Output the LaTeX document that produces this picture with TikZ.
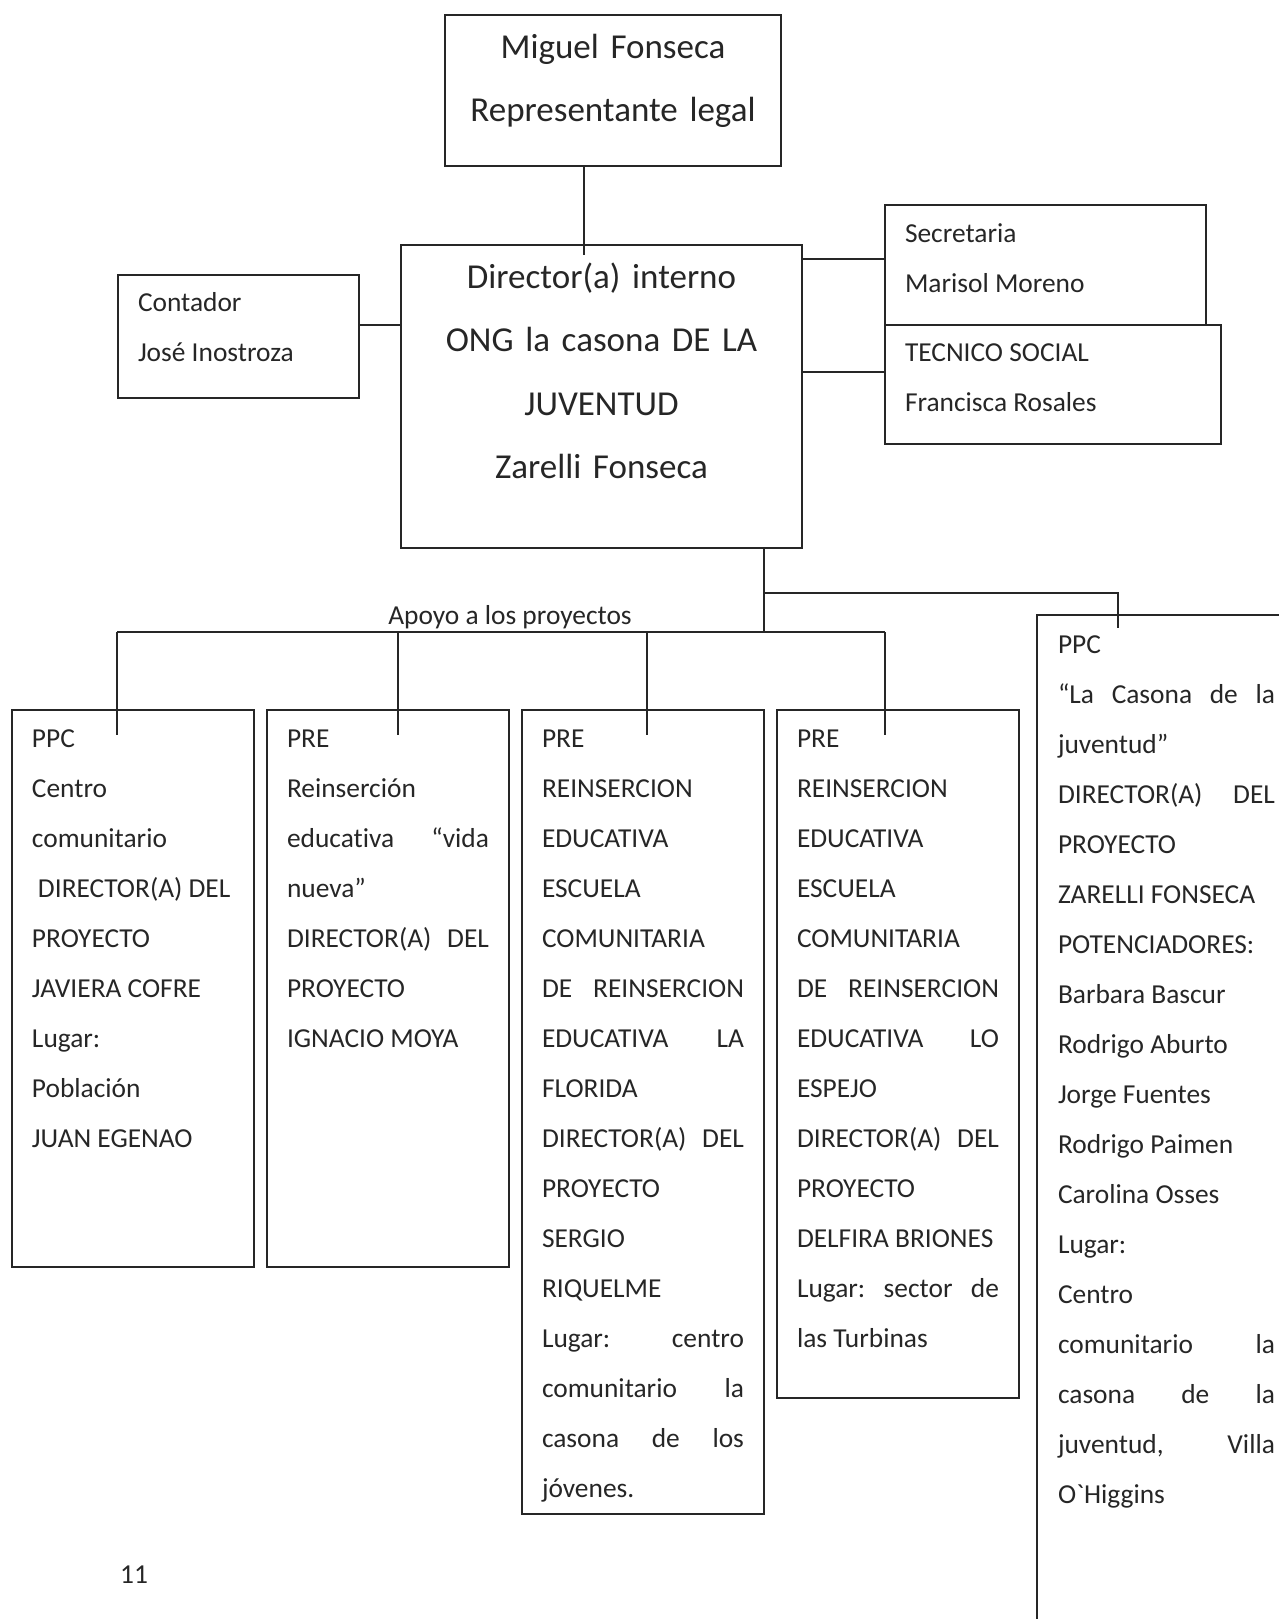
\documentclass[tikz,border=0pt]{standalone}
\usepackage{fontspec}
\setmainfont{Carlito}[Ligatures={TeX,NoCommon}]
\newcommand\orgsmall{\fontsize{13.7}{25}\selectfont}
\newcommand\orgbig{\fontsize{17.5}{31.75}\selectfont}

\begin{document}
\begin{tikzpicture}[x=0.5pt,y=-0.5pt,
  orgline/.style={line width=1pt,draw=black!85},
  orgbox/.style={orgline,anchor=north west,inner ysep=0pt,inner xsep=10pt,
    align=justify,font=\orgsmall,text=black!85},
  headbox/.style={orgbox,inner xsep=0pt,align=center,font=\orgbig},
  projbox/.style={orgbox,text width=101pt,text height=18.5pt}]
  \clip (0,0) rectangle (1279,1619);
  % upper part
  \node[headbox,text width=168pt,text height=21.5pt,text depth=54pt] (rep) at (444,14)
    {Miguel Fonseca\\Representante legal};
  \node[headbox,text width=200.5pt,text height=21.5pt,text depth=130pt] (dir) at (400,244)
    {Director(a) interno\\ONG la casona DE LA\\JUVENTUD\\Zarelli Fonseca};
  \node[orgbox,text width=100.5pt,text height=18pt,text depth=43.5pt] (cont) at (117,274)
    {Contador\\José Inostroza};
  \node[orgbox,text width=140.5pt,text height=18.5pt,text depth=41.5pt] (secr) at (884,204)
    {Secretaria\\Marisol Moreno};
  \node[orgbox,text width=148pt,text height=18pt,text depth=41.5pt] (tec) at (884,324)
    {TECNICO SOCIAL\\Francisca Rosales};
  % projects
  \node[projbox,text depth=260pt] (p1) at (11,709)
    {PPC\\Centro\\comunitario\\\hspace*{3pt}DIRECTOR(A) DEL\\PROYECTO\\JAVIERA COFRE\\Lugar:\\Población\\JUAN EGENAO};
  \node[projbox,text depth=260pt] (p2) at (266,709)
    {PRE\\Reinserción\\educativa\hfill “vida\\nueva”\\DIRECTOR(A)\hfill DEL\\PROYECTO\\IGNACIO MOYA};
  \node[projbox,text depth=383.5pt] (p3) at (521,709)
    {PRE\\REINSERCION\\EDUCATIVA\\ESCUELA\\COMUNITARIA\\DE\hfill REINSERCION\\EDUCATIVA\hfill LA\\FLORIDA\\DIRECTOR(A)\hfill DEL\\PROYECTO\\SERGIO\\RIQUELME\\Lugar:\hfill centro\\comunitario\hfill la\\casona\hfill de\hfill los\\jóvenes.};
  \node[projbox,text depth=325.5pt] (p4) at (776,709)
    {PRE\\REINSERCION\\EDUCATIVA\\ESCUELA\\COMUNITARIA\\DE\hfill REINSERCION\\EDUCATIVA\hfill LO\\ESPEJO\\DIRECTOR(A)\hfill DEL\\PROYECTO\\DELFIRA BRIONES\\Lugar:\hfill sector\hfill de\\las Turbinas};
  \node[projbox,text width=108.5pt,inner xsep=10.5pt,text height=19pt,text depth=540pt] (p5) at (1036,614)
    {PPC\\“La\hfill Casona\hfill de\hfill la\\juventud”\\DIRECTOR(A)\hfill DEL\\PROYECTO\\ZARELLI FONSECA\\POTENCIADORES:\\Barbara Bascur\\Rodrigo Aburto\\Jorge Fuentes\\Rodrigo Paimen\\Carolina Osses\\Lugar:\\Centro\\comunitario\hfill la\\casona\hfill de\hfill la\\juventud,\hfill Villa\\O\textasciigrave Higgins};
  \node[font=\orgsmall,text=black!85,anchor=base] (apoyo) at (510,624) {Apoyo a los proyectos};
  \node[font=\orgsmall,text=black!85,anchor=base] (pagenum) at (134,1583) {11};
  % connectors
  \coordinate (xrep) at (584,0);
  \coordinate (ycont) at (0,325);
  \coordinate (ysecr) at (0,259);
  \coordinate (ytec) at (0,372);
  \coordinate (split) at (764,593);
  \coordinate (bus) at (764,632);
  \coordinate (d0) at (584,255);
  \coordinate (d1) at (117,735);
  \coordinate (d2) at (398,735);
  \coordinate (d3) at (647,735);
  \coordinate (d4) at (885,735);
  \coordinate (d5) at (1118,628);
  \draw[orgline] (rep.south -| xrep) -- (d0);
  \draw[orgline] (cont.east |- ycont) -- (dir.west |- ycont);
  \draw[orgline] (dir.east |- ysecr) -- (secr.west |- ysecr);
  \draw[orgline] (dir.east |- ytec) -- (tec.west |- ytec);
  \draw[orgline] (dir.south -| split) -- (bus);
  \draw[orgline] (split) -| (d5);
  \draw[orgline] (bus -| d1) -- (bus -| d4);
  \foreach \d in {d1,d2,d3,d4}
    \draw[orgline] (bus -| \d) -- (\d);
\end{tikzpicture}
\end{document}
